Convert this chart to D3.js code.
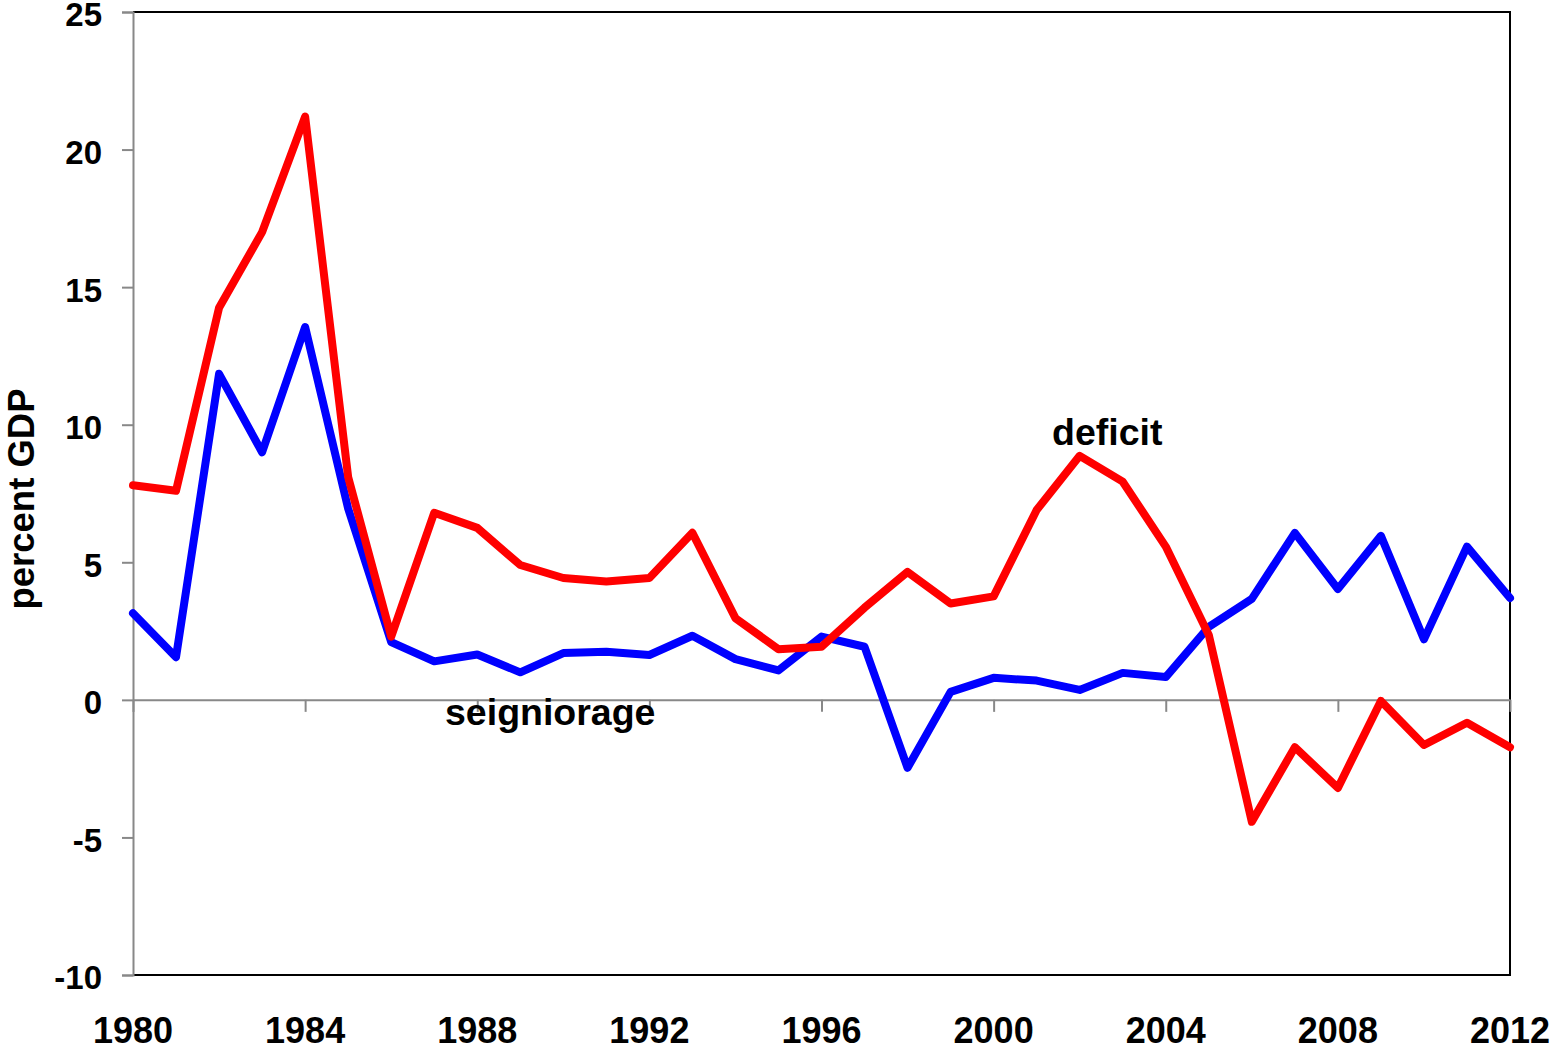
<!DOCTYPE html>
<html>
<head>
<meta charset="utf-8">
<script src="https://cdn.jsdelivr.net/npm/d3@7"></script>
<style>
  body { margin: 0; background: #fff; }
  text { font-family: Arial, "Liberation Sans", sans-serif; font-weight: bold; fill: #000; }
</style>
</head>
<body>
<script>
var years = d3.range(1980, 2013);

var deficit = [7.8, 7.6, 14.25, 17.0, 21.2, 8.1, 2.3, 6.8, 6.25, 4.9,
    4.43, 4.3, 4.43, 6.07, 2.97, 1.84, 1.93, 3.35, 4.65, 3.5,
    3.76, 6.9, 8.87, 7.93, 5.57, 2.36, -4.43, -1.72, -3.2, -0.04,
    -1.64, -0.83, -1.72];

var seigniorage = [3.15, 1.55, 11.85, 9.0, 13.55, 6.95, 2.1, 1.4, 1.65, 1.0,
    1.7, 1.75, 1.63, 2.33, 1.48, 1.07, 2.3, 1.93, -2.47, 0.29,
    0.8, 0.7, 0.36, 0.98, 0.83, 2.65, 3.67, 6.07, 4.03, 5.96,
    2.2, 5.57, 3.7];

var yTicks = [-10, -5, 0, 5, 10, 15, 20, 25];
var xTicks = [1980, 1984, 1988, 1992, 1996, 2000, 2004, 2008, 2012];

function createLineChart(){
    var w = 1554, h = 1054;
    var left = 133, right = 1510, top = 12, bottom = 975;

    var svg = d3.select("body")
                .append("svg")
                .attr("width", w)
                .attr("height", h);

    var x = d3.scaleLinear().domain([1980, 2012]).range([left, right]);
    var y = d3.scaleLinear().domain([-10, 25]).range([bottom, top]);

    // frame: black top, right, bottom
    svg.append("path")
        .attr("d", "M" + left + "," + top + "H" + right + "V" + bottom + "H" + left)
        .attr("fill", "none")
        .attr("stroke", "#000")
        .attr("stroke-width", 2);

    // y axis (gray), plain hyphen for negatives
    var yAxis = svg.append("g")
        .attr("transform", "translate(" + left + ",0)")
        .call(d3.axisLeft(y).tickValues(yTicks).tickSize(11).tickPadding(20)
                .tickFormat(function(d){ return String(d); }));
    yAxis.select(".domain").attr("stroke", "#888").attr("stroke-width", 2);
    yAxis.selectAll(".tick line").attr("stroke", "#888").attr("stroke-width", 2);
    yAxis.selectAll(".tick text")
        .style("font-size", "33px")
        .attr("dy", "0.42em");

    // zero line with ticks down
    var zAxis = svg.append("g")
        .attr("transform", "translate(0," + y(0) + ")")
        .call(d3.axisBottom(x).tickValues(xTicks).tickSize(12).tickSizeOuter(0).tickFormat(""));
    zAxis.select(".domain").attr("stroke", "#888").attr("stroke-width", 2);
    zAxis.selectAll(".tick line").attr("stroke", "#888").attr("stroke-width", 2);

    // year labels below the frame
    svg.append("g")
        .selectAll("text")
        .data(xTicks)
        .enter()
        .append("text")
        .attr("x", function(d){ return x(d); })
        .attr("y", 1043)
        .attr("text-anchor", "middle")
        .style("font-size", "36px")
        .text(function(d){ return d; });

    var line = d3.line()
        .x(function(d, i){ return x(years[i]); })
        .y(function(d){ return y(d); });

    svg.append("path")
        .datum(seigniorage)
        .attr("d", line)
        .attr("fill", "none")
        .attr("stroke", "#0000ff")
        .attr("stroke-width", 8)
        .attr("stroke-linejoin", "round")
        .attr("stroke-linecap", "round");

    svg.append("path")
        .datum(deficit)
        .attr("d", line)
        .attr("fill", "none")
        .attr("stroke", "#ff0000")
        .attr("stroke-width", 8)
        .attr("stroke-linejoin", "round")
        .attr("stroke-linecap", "round");

    svg.append("text")
        .attr("x", 1052)
        .attr("y", 445)
        .style("font-size", "37.5px")
        .text("deficit");

    svg.append("text")
        .attr("x", 445)
        .attr("y", 725)
        .style("font-size", "37.5px")
        .text("seigniorage");

    svg.append("text")
        .attr("transform", "translate(34,499) rotate(-90)")
        .attr("text-anchor", "middle")
        .style("font-size", "36.5px")
        .text("percent GDP");
}

createLineChart();
</script>
</body>
</html>
